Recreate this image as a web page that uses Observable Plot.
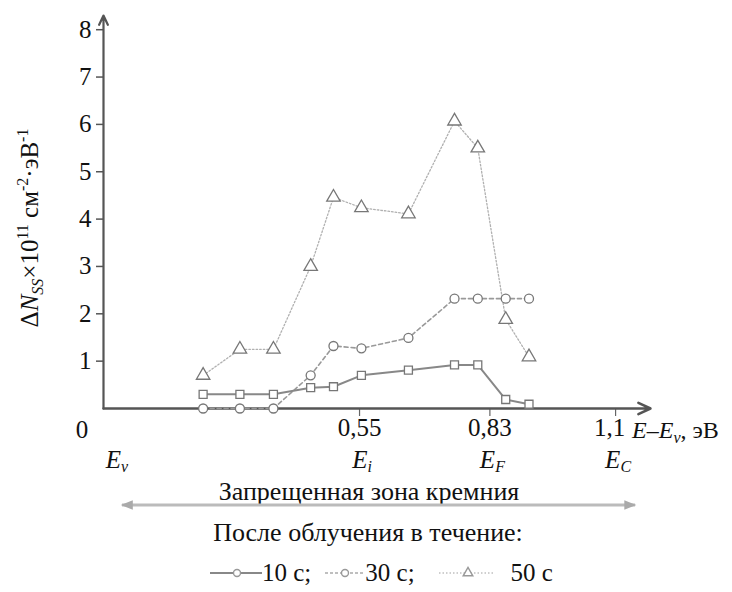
<!DOCTYPE html>
<html><head><meta charset="utf-8">
<script src="https://cdn.jsdelivr.net/npm/d3@7"></script>
<script src="https://cdn.jsdelivr.net/npm/@observablehq/plot@0.6"></script>
</head><body style="margin:0;background:#fff;color:#111;">
<div id="wrap" style="width:732px;"><div id="chart"></div>
<div id="after" style="font-size:26px;line-height:28px;text-align:center;width:732px;margin-top:7px;padding-left:4px;box-sizing:border-box;">После облучения в течение:</div>
<div id="legend" style="display:flex;align-items:center;font-size:25px;line-height:28px;padding-left:210px;margin-top:12px;"></div></div>
<script>
// ---- data ----
const energy = [0.214, 0.293, 0.365, 0.445, 0.494, 0.554, 0.655, 0.754, 0.804, 0.864, 0.914];
const s10 = [0.30, 0.30, 0.30, 0.44, 0.46, 0.70, 0.81, 0.92, 0.92, 0.19, 0.09];
const s30 = [0.00, 0.00, 0.00, 0.70, 1.32, 1.27, 1.49, 2.32, 2.32, 2.32, 2.32];
const s50 = [0.70, 1.25, 1.25, 3.00, 4.46, 4.24, 4.11, 6.07, 5.50, 1.88, 1.09];
const seriesNames = ["10 с", "30 с", "50 с"];
const yTicks = [1, 2, 3, 4, 5, 6, 7, 8];
const xTicks = [0.55, 0.83, 1.1];
const xTickLabels = ["0,55", "0,83", "1,1"];
const levels = [0, 0.55, 0.83, 1.1];
const levelSubs = ["v", "i", "F", "C"];
const bandLabel = "Запрещенная зона кремния";

const FONT = '"Liberation Serif", "Times New Roman"';
const setFont = el => el.style.setProperty("font-family", FONT, "important");
setFont(document.body);
setFont(document.getElementById("after"));
setFont(document.getElementById("legend"));
const mk = vals => energy.map((e, i) => ({e, v: vals[i]}));
const d10 = mk(s10), d30 = mk(s30), d50 = mk(s50);
const fmtX = d => xTickLabels[xTicks.indexOf(d)];

const FS = 25, SUB = 16;
const xMax = 1.175, yMax = 8.3;
const plot = Plot.plot({
  width: 732, height: 512,
  marginLeft: 103, marginRight: 82, marginTop: 15, marginBottom: 104,
  style: {fontSize: FS + "px", color: "#111", background: "transparent", overflow: "visible", display: "block"},
  x: {domain: [0, xMax], axis: null},
  y: {domain: [0, yMax], axis: null},
  marks: [
    Plot.axisY(yTicks, {anchor: "left", tickSize: 7, tickPadding: 5, fontSize: FS, stroke: "#555", strokeWidth: 1.5, fill: "#111", label: null}),
    Plot.axisX(xTicks.slice(0, 2), {anchor: "bottom", tickSize: 8, tickPadding: 2, fontSize: FS, stroke: "#666", strokeWidth: 1.2, fill: "#111", label: null, tickFormat: fmtX}),
    Plot.axisX(xTicks.slice(2), {anchor: "bottom", tickSize: 8, fontSize: FS, stroke: "#666", strokeWidth: 1.2, label: null, tickFormat: () => ""}),
    Plot.axisX(xTicks.slice(2), {anchor: "bottom", tickSize: 0, tickPadding: 10, dx: -6, fontSize: FS, fill: "#111", label: null, tickFormat: fmtX}),
    Plot.arrow([0], {x1: 0, y1: 0, x2: xMax, y2: 0, stroke: "#555", strokeWidth: 2.5, headLength: 8, headAngle: 50}),
    Plot.arrow([0], {x1: 0, y1: 0, x2: 0, y2: yMax, stroke: "#555", strokeWidth: 2.2, headLength: 7, headAngle: 50}),
    Plot.line(d50, {x: "e", y: "v", stroke: "#b0b0b0", strokeWidth: 1.3, strokeDasharray: "1.6,2"}),
    Plot.dot(d50, {x: "e", y: "v", symbol: "triangle", r: 5, fill: "white", stroke: "#777", strokeWidth: 1.3}),
    Plot.line(d30, {x: "e", y: "v", stroke: "#999", strokeWidth: 1.6, strokeDasharray: "4,3"}),
    Plot.dot(d30, {x: "e", y: "v", symbol: "circle", r: 4.5, fill: "white", stroke: "#777", strokeWidth: 1.3}),
    Plot.line(d10, {x: "e", y: "v", stroke: "#888", strokeWidth: 2}),
    Plot.dot(d10, {x: "e", y: "v", symbol: "square", r: 4.5, fill: "white", stroke: "#777", strokeWidth: 1.3})
  ]
});
document.getElementById("chart").appendChild(plot);

// ---- extra text via the plot's own scales ----
const sx = plot.scale("x"), sy = plot.scale("y");
const svg = d3.select(plot);
const y0 = sy.apply(0);
const g = svg.append("g").attr("fill", "#111").attr("text-anchor", "start");
const T = (sel, size) => sel.append("text").style("font-size", size + "px");

T(g, FS).attr("x", sx.apply(0) - 21).attr("y", y0 + 30).attr("text-anchor", "middle").text("0");

const xt = T(g, 24).attr("x", sx.apply(1.1) + 17).attr("y", y0 + 30).attr("text-anchor", "start");
xt.append("tspan").attr("font-style", "italic").text("E");
xt.append("tspan").text("–");
xt.append("tspan").attr("font-style", "italic").text("E");
xt.append("tspan").attr("font-style", "italic").style("font-size", SUB + "px").attr("dy", 5).text("v");
xt.append("tspan").attr("dy", -5).text(", эВ");

levels.forEach((L, i) => {
  const t = T(g, FS).attr("x", sx.apply(L) + (i === 0 ? 14 : 3)).attr("y", y0 + 60).attr("text-anchor", "middle");
  t.append("tspan").attr("font-style", "italic").text("E");
  t.append("tspan").attr("font-style", "italic").style("font-size", SUB + "px").attr("dy", 4).text(levelSubs[i]);
});

T(g, 26).attr("x", 369).attr("y", y0 + 92).attr("text-anchor", "middle").text(bandLabel);
const defs = svg.append("defs");
defs.append("marker").attr("id", "ah").attr("viewBox", "0 0 10 10").attr("refX", 9).attr("refY", 5)
  .attr("markerWidth", 5).attr("markerHeight", 4).attr("orient", "auto-start-reverse")
  .append("path").attr("d", "M0,1L10,5L0,9z").attr("fill", "#aaa");
g.append("line").attr("x1", sx.apply(0) + 19).attr("x2", sx.apply(1.1) + 20).attr("y1", y0 + 97).attr("y2", y0 + 97)
  .attr("stroke", "#bbb").attr("stroke-width", 3).attr("marker-start", "url(#ah)").attr("marker-end", "url(#ah)");

const yl = T(g, FS).attr("transform", `translate(38,228) rotate(-90)`).attr("text-anchor", "middle");
yl.append("tspan").text("Δ");
yl.append("tspan").attr("font-style", "italic").text("N");
yl.append("tspan").attr("font-style", "italic").style("font-size", SUB + "px").attr("dy", 5).text("SS");
yl.append("tspan").attr("dy", -5).text("×10");
yl.append("tspan").style("font-size", SUB + "px").attr("dy", -10).text("11");
yl.append("tspan").attr("dy", 10).text(" см");
yl.append("tspan").style("font-size", SUB + "px").attr("dy", -10).text("-2");
yl.append("tspan").attr("dy", 10).text("·эВ");
yl.append("tspan").style("font-size", SUB + "px").attr("dy", -10).text("-1");

setFont(plot);
svg.selectAll("text").each(function() { setFont(this); });
svg.selectAll("tspan").each(function() { setFont(this); });

// ---- legend ----
const legendSpecs = [
  {w: 52, x0: 0, x1: 52, cx: 27, dash: null, stroke: "#888", sw: 2, sym: "circle", gap: 14},
  {w: 40, x0: 0, x1: 40, cx: 20, dash: "3,2", stroke: "#aaa", sw: 1.6, sym: "circle", gap: 4},
  {w: 92, x0: 20, x1: 75, cx: 49, dash: "1.5,2", stroke: "#c0c0c0", sw: 1.3, sym: "triangle", gap: 0}
];
const leg = d3.select("#legend");
legendSpecs.forEach((s, i) => {
  const sv = leg.append("svg").attr("width", s.w).attr("height", 16).style("display", "block");
  sv.append("line").attr("x1", s.x0).attr("x2", s.x1).attr("y1", 8).attr("y2", 8).attr("stroke", s.stroke).attr("stroke-width", s.sw)
    .attr("stroke-dasharray", s.dash);
  if (s.sym === "circle") sv.append("circle").attr("cx", s.cx).attr("cy", 8).attr("r", 3.5).attr("fill", "white").attr("stroke", "#999").attr("stroke-width", 1.4);
  else sv.append("path").attr("d", d3.symbol(d3.symbolTriangle, 40)()).attr("transform", `translate(${s.cx},8)`).attr("fill", "white").attr("stroke", "#999").attr("stroke-width", 1.4);
  const sp = leg.append("span").style("white-space", "pre").style("margin-right", s.gap + "px").text(seriesNames[i] + (i < 2 ? ";" : ""));
  setFont(sp.node());
});
</script></body></html>
